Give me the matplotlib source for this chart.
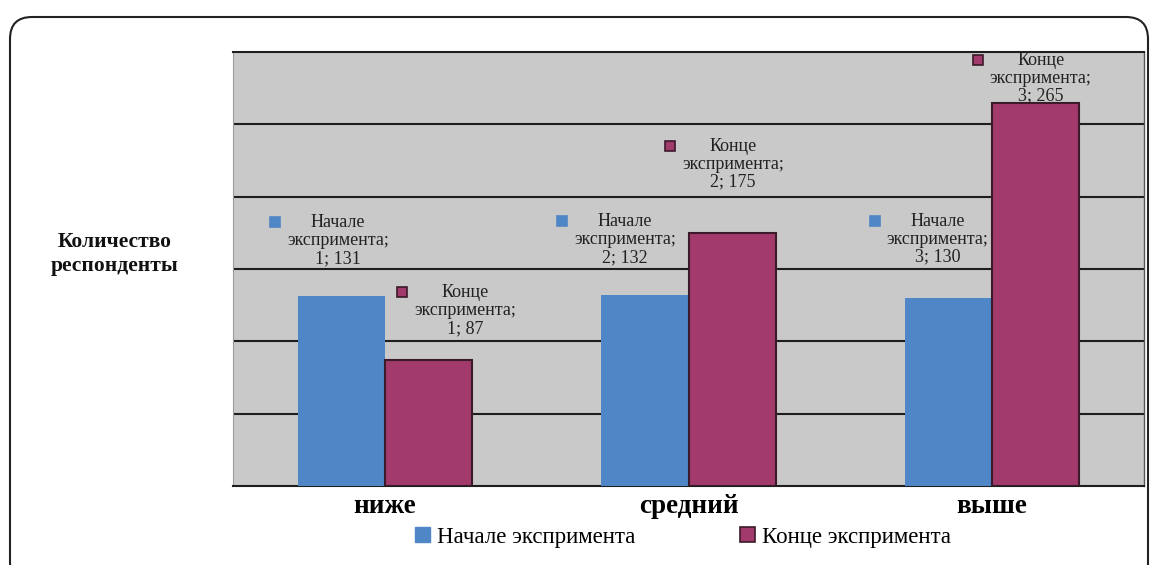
import matplotlib
matplotlib.use("Agg")
import matplotlib.pyplot as plt
import numpy as np
from matplotlib.patches import FancyBboxPatch, Patch
from matplotlib.transforms import IdentityTransform

# данные
categories = ["ниже", "средний", "выше"]
series_names = ["Начале экспримента", "Конце экспримента"]
start_values = [131, 132, 130]
end_values = [87, 175, 265]

colors = ["#4F86C6", "#A23A6C"]
edge_dark = "#3B1A2A"

plt.rcParams['font.family'] = ['Liberation Serif', 'DejaVu Serif']

W, H = 1152, 565
fig = plt.figure(figsize=(W / 100, H / 100), dpi=100)
ax = fig.add_axes([233 / W, 1 - 486 / H, (1144 - 233) / W, (486 - 52) / H])
ax.set_facecolor("#C9C9C9")

x = np.arange(len(categories))
w = 0.287
bars_start = ax.bar(x - w / 2, start_values, w, color=colors[0], zorder=3)
bars_end = ax.bar(x + w / 2, end_values, w, color=colors[1],
                  edgecolor=edge_dark, linewidth=1.5, zorder=3)

ax.set_xlim(-0.5, len(categories) - 0.5)
ax.set_ylim(0, 300)
ax.set_yticks(np.arange(50, 300, 50))
ax.yaxis.grid(True, color="#1E1E1E", linewidth=1.5, zorder=1)
ax.set_axisbelow(True)
ax.tick_params(axis='y', left=False, labelleft=False)
ax.set_xticks(x)
ax.set_xticklabels(categories, fontsize=19.5, fontweight='bold')
ax.tick_params(axis='x', length=0, pad=6)
for side in ["top", "bottom"]:
    ax.spines[side].set_color("#1E1E1E")
    ax.spines[side].set_linewidth(1.5)
ax.spines["left"].set_color("#9A9A9A")
ax.spines["right"].set_color("#555555")
ax.spines["left"].set_linewidth(0.8)
ax.spines["right"].set_linewidth(1.0)

# подписи данных (смещения в пикселях)
start_offsets = [(-3, 29), (-20, 29), (-11, 32)]
end_offsets = [(37, 23), (1, 42), (5, -2)]

labels = []
for i in range(len(categories)):
    for bars, vals, offs, name, col, ec in [
        (bars_start, start_values, start_offsets, "Начале", colors[0], colors[0]),
        (bars_end, end_values, end_offsets, "Конце", colors[1], edge_dark),
    ]:
        b = bars[i]
        cx = b.get_x() + b.get_width() / 2
        t = ax.annotate(f"{name}\nэкспримента;\n{i + 1}; {vals[i]}",
                        xy=(cx, vals[i]), xytext=offs[i], textcoords='offset pixels',
                        ha='center', va='bottom', fontsize=13, linespacing=1.08,
                        color="#222222", zorder=5)
        labels.append((t, col, ec))

fig.canvas.draw()
for t, col, ec in labels:
    bb = t.get_window_extent()
    ax.plot([bb.x0 - 12], [bb.y1 - 8], marker='s', markersize=6.5,
            markerfacecolor=col, markeredgecolor=ec, markeredgewidth=1.2,
            transform=IdentityTransform(), zorder=6)

fig.text(115 / W, 1 - 254 / H, "Количество\nреспонденты", ha='center', va='center',
         fontsize=15.5, fontweight='bold', linespacing=1.25, color="#111111")

handles = [Patch(facecolor=colors[0], edgecolor=colors[0]),
           Patch(facecolor=colors[1], edgecolor=edge_dark, linewidth=1.2)]
fig.legend(handles, series_names, loc='center', bbox_to_anchor=(683 / W, 1 - 537 / H),
           ncol=2, frameon=False, fontsize=16.5, handlelength=0.65, handleheight=0.65,
           handletextpad=0.3, columnspacing=4.6)

frame = FancyBboxPatch((10, -20), 1138, 548 + 20, boxstyle="round,pad=0,rounding_size=22",
                       facecolor='none', edgecolor="#222222", linewidth=1.5,
                       transform=IdentityTransform())
fig.patches.append(frame)

fig.savefig("out.png", dpi=100)
